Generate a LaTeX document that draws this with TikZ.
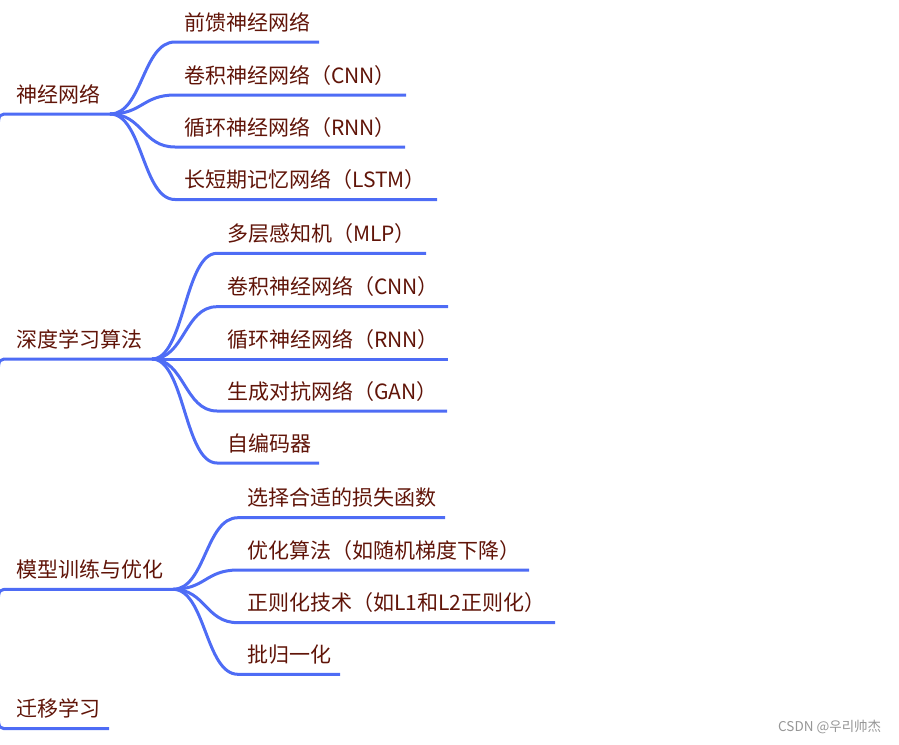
\documentclass[tikz,border=0pt]{standalone}
\usepackage{fontspec}
\setmainfont{Noto Sans CJK SC}
\usetikzlibrary{calc}
\definecolor{mmblue}{RGB}{78,108,245}
\definecolor{mmtext}{RGB}{96,20,8}
\definecolor{wmgray}{RGB}{150,150,150}
\tikzset{
  item/.style={anchor=base west, inner sep=0pt, text=mmtext, font=\fontsize{21}{25}\selectfont},
  uline/.style={draw=mmblue, line width=3pt},
  link/.style={to path={let \p1=(\tikztostart), \p2=(\tikztotarget) in
      .. controls ({(\x1+\x2)/2},\y1) and ({(\x1+\x2)/2},\y2) .. (\tikztotarget)}},
  wm/.style={anchor=base west, inner sep=0pt, text=wmgray, font=\fontsize{13.5}{16}\selectfont},
}
\begin{document}
\begin{tikzpicture}[x=1pt,y=-1pt]
\useasboundingbox (0,0) rectangle (899,744);

% ---------- group A ----------
\coordinate (pA) at (-2,127);
\coordinate (As) at (10,114);  \coordinate (Ae) at (110,114);
\node[item] (A) at (16,102) {神经网络};
\draw[uline] (pA) .. controls (-1,114) .. (As) -- (Ae);

\coordinate (A1s) at (175,42);    \coordinate (A1e) at (319,42);
\coordinate (A2s) at (175,95);    \coordinate (A2e) at (406,95);
\coordinate (A3s) at (175,147);   \coordinate (A3e) at (405,147);
\coordinate (A4s) at (175,199.5); \coordinate (A4e) at (437,199.5);
\node[item] (A1) at (184,30)    {前馈神经网络};
\node[item] (A2) at (184,83)    {卷积神经网络（CNN）};
\node[item] (A3) at (184,135)   {循环神经网络（RNN）};
\node[item] (A4) at (184,187.5) {长短期记忆网络（LSTM）};
\foreach \i in {1,...,4}{
  \draw[uline] (Ae) to[link] (A\i s) -- (A\i e);
}

% ---------- group B ----------
\coordinate (pB) at (-2,372);
\coordinate (Bs) at (10,359);  \coordinate (Be) at (152,359);
\node[item] (B) at (16,347) {深度学习算法};
\draw[uline] (pB) .. controls (-1,359) .. (Bs) -- (Be);

\coordinate (B1s) at (217,253.3); \coordinate (B1e) at (426,253.3);
\coordinate (B2s) at (217,306.7); \coordinate (B2e) at (448,306.7);
\coordinate (B3s) at (217,359);   \coordinate (B3e) at (448,359);
\coordinate (B4s) at (217,411);   \coordinate (B4e) at (447,411);
\coordinate (B5s) at (217,463);   \coordinate (B5e) at (319,463);
\node[item] (B1) at (227,241.3) {多层感知机（MLP）};
\node[item] (B2) at (227,294.7) {卷积神经网络（CNN）};
\node[item] (B3) at (227,347)   {循环神经网络（RNN）};
\node[item] (B4) at (227,399)   {生成对抗网络（GAN）};
\node[item] (B5) at (227,451)   {自编码器};
\foreach \i in {1,...,5}{
  \draw[uline] (Be) to[link] (B\i s) -- (B\i e);
}

% ---------- group C ----------
\coordinate (pC) at (-2,602);
\coordinate (Cs) at (10,589.3);  \coordinate (Ce) at (173,589.3);
\node[item] (C) at (16,577.3) {模型训练与优化};
\draw[uline] (pC) .. controls (-1,589.3) .. (Cs) -- (Ce);

\coordinate (C1s) at (238,517.7); \coordinate (C1e) at (445,517.7);
\coordinate (C2s) at (238,570);   \coordinate (C2e) at (529,570);
\coordinate (C3s) at (238,622.7); \coordinate (C3e) at (555,622.7);
\coordinate (C4s) at (238,674.3); \coordinate (C4e) at (340,674.3);
\node[item] (C1) at (247,505.7) {选择合适的损失函数};
\node[item] (C2) at (247,558)   {优化算法（如随机梯度下降）};
\node[item] (C3) at (247,610.7) {正则化技术（如L1和L2正则化）};
\node[item] (C4) at (247,662.3) {批归一化};
\foreach \i in {1,...,4}{
  \draw[uline] (Ce) to[link] (C\i s) -- (C\i e);
}

% ---------- group D ----------
\coordinate (pD) at (-2,716);
\coordinate (Ds) at (10,728.7);  \coordinate (De) at (109,728.7);
\node[item] (D) at (16,716.7) {迁移学习};
\draw[uline] (pD) .. controls (-1,728.7) .. (Ds) -- (De);

% ---------- watermark ----------
\node[wm] (wm) at (778,731) {CSDN @우리帅杰};
\end{tikzpicture}
\end{document}
